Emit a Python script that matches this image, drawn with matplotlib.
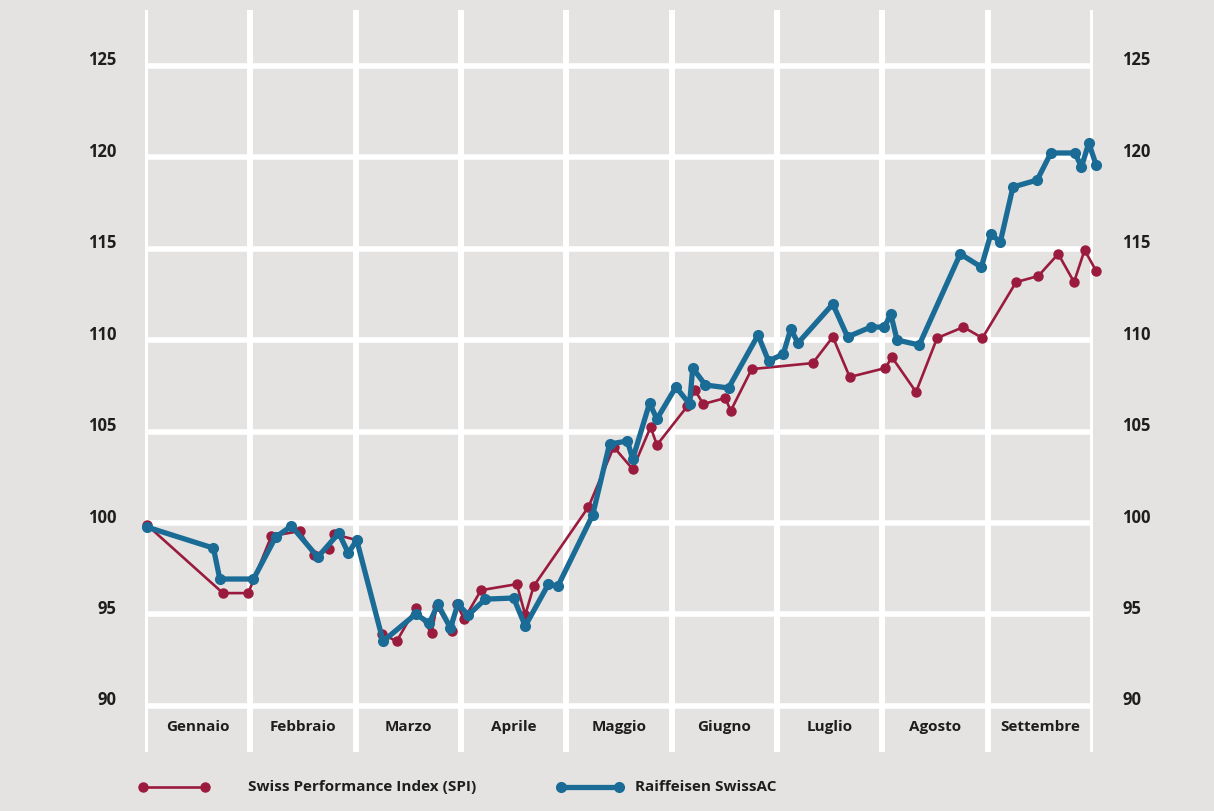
import matplotlib.pyplot as plt
from matplotlib.lines import Line2D

# Mesi e posizioni dei punti (in unità di mese, 0 = inizio gennaio)
mesi = ['Gennaio', 'Febbraio', 'Marzo', 'Aprile', 'Maggio', 'Giugno',
        'Luglio', 'Agosto', 'Settembre']
y_ticks = [90, 95, 100, 105, 110, 115, 120, 125]

spi_x = [0.02, 0.74, 0.98, 1.20, 1.47, 1.60, 1.75, 1.79, 2.01,
         2.25, 2.39, 2.57, 2.72, 2.77, 2.91, 2.96, 3.03, 3.19,
         3.53, 3.61, 3.69, 4.21, 4.45, 4.63, 4.80, 4.86, 5.15,
         5.22, 5.30, 5.51, 5.56, 5.76, 6.34, 6.53, 6.69, 7.03,
         7.09, 7.32, 7.52, 7.77, 7.95, 8.27, 8.48, 8.67, 8.82,
         8.92, 9.03]
spi_y = [99.89, 96.17, 96.17, 99.29, 99.56, 98.25, 98.58, 99.40, 99.07,
         93.93, 93.54, 95.35, 93.98, 95.46, 94.09, 95.57, 94.75, 96.33,
         96.66, 94.97, 96.55, 100.88, 104.16, 102.95, 105.25, 104.27, 106.40,
         107.28, 106.51, 106.84, 106.13, 108.42, 108.75, 110.18, 107.99, 108.48,
         109.08, 107.17, 110.12, 110.72, 110.12, 113.18, 113.51, 114.72, 113.18,
         114.93, 113.79]

sac_x = [0.02, 0.65, 0.71, 1.03, 1.24, 1.39, 1.64, 1.84, 1.93, 2.01,
         2.26, 2.57, 2.70, 2.78, 2.90, 2.97, 3.07, 3.23, 3.50, 3.61,
         3.83, 3.92, 4.25, 4.41, 4.58, 4.63, 4.79, 4.86, 5.04, 5.17,
         5.20, 5.32, 5.54, 5.82, 5.92, 6.06, 6.13, 6.20, 6.53, 6.67,
         6.89, 7.02, 7.08, 7.14, 7.35, 7.74, 7.94, 8.03, 8.12, 8.24,
         8.47, 8.60, 8.83, 8.89, 8.96, 9.03]
sac_y = [99.78, 98.63, 96.94, 96.94, 99.23, 99.84, 98.14, 99.45, 98.36, 99.07,
         93.54, 95.02, 94.53, 95.57, 94.26, 95.57, 94.97, 95.84, 95.90, 94.37,
         96.66, 96.55, 100.44, 104.32, 104.49, 103.50, 106.56, 105.69, 107.44, 106.51,
         108.48, 107.55, 107.39, 110.28, 108.86, 109.25, 110.61, 109.85, 111.98, 110.18,
         110.72, 110.72, 111.43, 110.01, 109.74, 114.72, 114.00, 115.81, 115.37, 118.38,
         118.76, 120.24, 120.24, 119.47, 120.79, 119.58]

bg = '#e4e3e1'
rosso = '#9a1b3d'
blu = '#1a6c96'
testo = '#1e1e1e'
font = 'Open Sans'

fig = plt.figure(figsize=(12.14, 8.11), dpi=100, facecolor=bg)
ax = fig.add_axes([145 / 1214, 1 - 752 / 811, 948 / 1214, 742 / 811])
ax.set_facecolor(bg)
ax.set_xlim(0, 9)
ax.set_ylim(87.48, 128.06)
for s in ax.spines.values():
    s.set_visible(False)
ax.set_xticks([])
ax.set_yticks([])

# griglia bianca
for i in range(len(mesi) + 1):
    ax.axvline(i, color='white', lw=4.3, zorder=1)
for v in y_ticks:
    ax.plot([0, 9], [v, v], color='white', lw=4.0, zorder=1,
            solid_capstyle='butt')

# etichette
for i, m in enumerate(mesi):
    ax.text(i + 0.5, 88.85, m, ha='center', va='center', fontsize=11,
            fontweight='bold', color=testo, family=font)
for v in y_ticks:
    ax.text(-0.27, v + 0.3, str(v), ha='right', va='center', fontsize=12,
            fontweight='bold', color=testo, family=font)
    ax.text(9.28, v + 0.3, str(v), ha='left', va='center', fontsize=12,
            fontweight='bold', color=testo, family=font)

# serie
ax.plot(spi_x, spi_y, color=rosso, lw=1.9, marker='o', ms=6.5,
        zorder=3, clip_on=False)
ax.plot(sac_x, sac_y, color=blu, lw=3.8, marker='o', ms=7,
        zorder=4, clip_on=False, solid_joinstyle='round')

# legenda
ly = 1 - 787 / 811
fig.add_artist(Line2D([143 / 1214, 205 / 1214], [ly, ly], color=rosso, lw=1.9,
                      marker='o', ms=6.5, transform=fig.transFigure))
fig.text(248 / 1214, ly, 'Swiss Performance Index (SPI)', ha='left', va='center',
         fontsize=11, fontweight='bold', color=testo, family=font)
fig.add_artist(Line2D([561 / 1214, 619 / 1214], [ly, ly], color=blu, lw=3.8,
                      marker='o', ms=7, transform=fig.transFigure))
fig.text(635 / 1214, ly, 'Raiffeisen SwissAC', ha='left', va='center',
         fontsize=11, fontweight='bold', color=testo, family=font)

fig.savefig('out.png', dpi=100, facecolor=bg)
